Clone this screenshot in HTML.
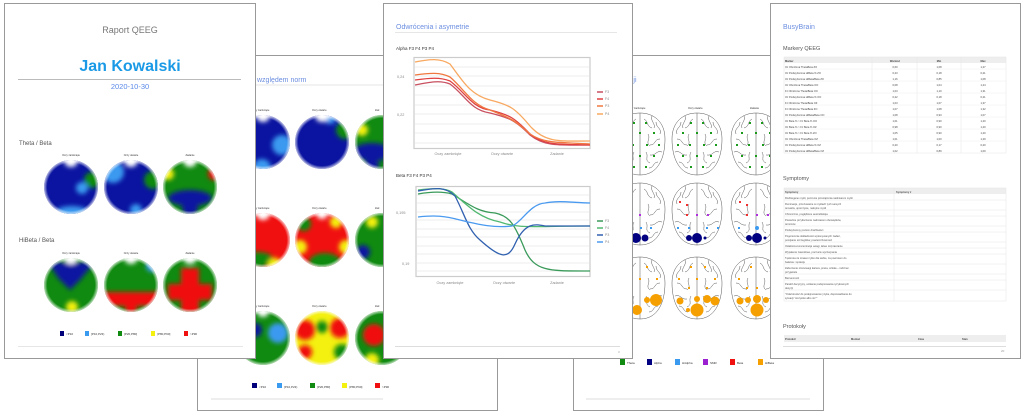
<!DOCTYPE html>
<html><head><meta charset="utf-8"><style>
html,body{margin:0;padding:0;background:#fff;width:1024px;height:416px;overflow:hidden}
svg{display:block}
text{font-family:"Liberation Sans",sans-serif}
</style></head><body>
<svg width="1024" height="416" viewBox="0 0 1024 416" xmlns="http://www.w3.org/2000/svg">
<defs>
<radialGradient id="gBlue" cx="50%" cy="50%" r="50%"><stop offset="0" stop-color="#0a14a0"/><stop offset="1" stop-color="#0a14a0" stop-opacity="0"/></radialGradient>
<radialGradient id="gLB" cx="50%" cy="50%" r="50%"><stop offset="0" stop-color="#3a9af0"/><stop offset="1" stop-color="#3a9af0" stop-opacity="0"/></radialGradient>
<radialGradient id="gGr" cx="50%" cy="50%" r="50%"><stop offset="0" stop-color="#108a10"/><stop offset="1" stop-color="#108a10" stop-opacity="0"/></radialGradient>
<radialGradient id="gYe" cx="50%" cy="50%" r="50%"><stop offset="0" stop-color="#f4f010"/><stop offset="1" stop-color="#f4f010" stop-opacity="0"/></radialGradient>
<radialGradient id="gRe" cx="50%" cy="50%" r="50%"><stop offset="0" stop-color="#f01010"/><stop offset="1" stop-color="#f01010" stop-opacity="0"/></radialGradient>
<radialGradient id="gWh" cx="50%" cy="50%" r="50%"><stop offset="0" stop-color="#fff"/><stop offset="1" stop-color="#fff" stop-opacity="0"/></radialGradient>
<radialGradient id="edge" cx="50%" cy="50%" r="50%"><stop offset="0.88" stop-color="#fff" stop-opacity="0"/><stop offset="1" stop-color="#fff" stop-opacity="0.7"/></radialGradient>
<filter id="bl" x="-20%" y="-20%" width="140%" height="140%"><feGaussianBlur stdDeviation="2.5"/></filter>
<clipPath id="a1"><circle cx="263" cy="142" r="27"/></clipPath>
<clipPath id="a2"><circle cx="322" cy="142" r="27"/></clipPath>
<clipPath id="a3"><circle cx="382" cy="142" r="27"/></clipPath>
<clipPath id="a4"><circle cx="263" cy="240" r="27"/></clipPath>
<clipPath id="a5"><circle cx="322" cy="240" r="27"/></clipPath>
<clipPath id="a6"><circle cx="382" cy="240" r="27"/></clipPath>
<clipPath id="a7"><circle cx="263" cy="338" r="27"/></clipPath>
<clipPath id="a8"><circle cx="322" cy="338" r="27"/></clipPath>
<clipPath id="a9"><circle cx="382" cy="338" r="27"/></clipPath>
<clipPath id="b1"><circle cx="71" cy="187" r="27"/></clipPath>
<clipPath id="b2"><circle cx="131" cy="187" r="27"/></clipPath>
<clipPath id="b3"><circle cx="190" cy="187" r="27"/></clipPath>
<clipPath id="b4"><circle cx="71" cy="285" r="27"/></clipPath>
<clipPath id="b5"><circle cx="131" cy="285" r="27"/></clipPath>
<clipPath id="b6"><circle cx="190" cy="285" r="27"/></clipPath>
<g id="brain" fill="#fff" stroke="#555" stroke-width="0.5">
<path d="M0,-31 C-14,-31 -25,-22 -25,-5 C-25,14 -18,31 0,31 C18,31 25,14 25,-5 C25,-22 14,-31 0,-31Z"/>
<path fill="none" d="M0,-31 L0,31"/>
<path fill="none" d="M-4,-25 c-5,3 -2,7 -8,9 M-16,-22 c0,6 -6,6 -4,12 M-20,-5 c6,0 4,6 10,6 M-8,-10 c-3,5 3,8 -2,12 M-22,8 c6,-2 6,4 12,3 M-6,8 c-3,5 2,8 -4,11 M-18,18 c5,0 4,6 9,6 M-12,-28 c2,5 -4,8 -2,12"/>
<path fill="none" d="M4,-25 c5,3 2,7 8,9 M16,-22 c0,6 6,6 4,12 M20,-5 c-6,0 -4,6 -10,6 M8,-10 c3,5 -3,8 2,12 M22,8 c-6,-2 -6,4 -12,3 M6,8 c3,5 -2,8 4,11 M18,18 c-5,0 -4,6 -9,6 M12,-28 c-2,5 4,8 2,12"/>
</g>
<g id="gdots" fill="#1a9a1a"><rect x="-7" y="-22" width="2" height="2"/><rect x="5" y="-22" width="2" height="2"/><rect x="-15" y="-12" width="2" height="2"/><rect x="-1" y="-12" width="2" height="2"/><rect x="13" y="-12" width="2" height="2"/><rect x="-20" y="0" width="2" height="2"/><rect x="-8" y="0" width="2" height="2"/><rect x="6" y="0" width="2" height="2"/><rect x="18" y="0" width="2" height="2"/><rect x="-15" y="11" width="2" height="2"/><rect x="-1" y="11" width="2" height="2"/><rect x="13" y="11" width="2" height="2"/><rect x="-7" y="22" width="2" height="2"/><rect x="5" y="22" width="2" height="2"/></g>
</defs>

<!-- PAGE 2 (behind) -->
<rect x="197.5" y="55.5" width="300" height="355" fill="#fff" stroke="#999"/>
<text x="257" y="82" font-size="7" fill="#6b8ee0">względem norm</text>
<line x1="256" y1="85" x2="383" y2="85" stroke="#e6e6e6"/>
<g font-size="2.5" fill="#333"><text x="256" y="111">y zamknięte</text><text x="312" y="111">Oczy otwarte</text><text x="375" y="111">Zad</text>
<text x="256" y="209">y zamknięte</text><text x="312" y="209">Oczy otwarte</text><text x="375" y="209">Zad</text>
<text x="256" y="307">y zamknięte</text><text x="312" y="307">Oczy otwarte</text><text x="375" y="307">Zad</text></g>
<g clip-path="url(#a1)"><rect x="230" y="110" width="70" height="70" fill="#0a14a0"/><g filter="url(#bl)"><circle cx="282" cy="145" r="10" fill="#3a9af0"/><circle cx="262" cy="168" r="9" fill="#3a9af0"/><circle cx="263" cy="115" r="7" fill="#fff"/></g></g>
<g clip-path="url(#a2)"><rect x="290" y="110" width="70" height="70" fill="#0a14a0"/><g filter="url(#bl)"><circle cx="345" cy="130" r="9" fill="#108a10"/><circle cx="330" cy="118" r="6" fill="#3a9af0"/><circle cx="322" cy="115" r="7" fill="#fff"/></g></g>
<g clip-path="url(#a3)"><rect x="350" y="110" width="70" height="70" fill="#108a10"/><g filter="url(#bl)"><ellipse cx="372" cy="152" rx="20" ry="9" fill="#0a14a0"/><circle cx="362" cy="130" r="6" fill="#f4f010"/><circle cx="372" cy="165" r="7" fill="#0a14a0"/></g></g>
<g clip-path="url(#a4)"><rect x="230" y="210" width="70" height="70" fill="#f01010"/><g filter="url(#bl)"><ellipse cx="258" cy="260" rx="16" ry="8" fill="#108a10"/><circle cx="275" cy="265" r="7" fill="#f4f010"/><circle cx="263" cy="213" r="7" fill="#fff"/></g></g>
<g clip-path="url(#a5)"><rect x="290" y="210" width="70" height="70" fill="#f01010"/><g filter="url(#bl)"><ellipse cx="325" cy="262" rx="16" ry="9" fill="#108a10"/><circle cx="300" cy="247" r="7" fill="#f4f010"/><circle cx="346" cy="247" r="7" fill="#f4f010"/><circle cx="336" cy="222" r="6" fill="#f4f010"/><circle cx="304" cy="224" r="7" fill="#108a10"/><circle cx="322" cy="213" r="6" fill="#fff"/></g></g>
<g clip-path="url(#a6)"><rect x="350" y="210" width="70" height="70" fill="#108a10"/><g filter="url(#bl)"><circle cx="363" cy="252" r="7" fill="#0a14a0"/><circle cx="372" cy="222" r="6" fill="#f4f010"/></g></g>
<g clip-path="url(#a7)"><rect x="230" y="308" width="70" height="70" fill="#108a10"/><g filter="url(#bl)"><circle cx="278" cy="333" r="10" fill="#3a9af0"/><circle cx="255" cy="330" r="7" fill="#0a14a0"/><circle cx="263" cy="311" r="6" fill="#fff"/></g></g>
<g clip-path="url(#a8)"><rect x="290" y="308" width="70" height="70" fill="#f4f010"/><g filter="url(#bl)"><circle cx="305" cy="330" r="10" fill="#f01010"/><circle cx="340" cy="328" r="10" fill="#f01010"/><circle cx="322" cy="327" r="6" fill="#108a10"/><circle cx="342" cy="352" r="8" fill="#108a10"/><circle cx="305" cy="352" r="7" fill="#f01010"/></g></g>
<g clip-path="url(#a9)"><rect x="350" y="308" width="70" height="70" fill="#108a10"/><g filter="url(#bl)"><circle cx="374" cy="335" r="11" fill="#f01010"/><circle cx="372" cy="360" r="7" fill="#f4f010"/></g></g>
<g fill="url(#edge)"><circle cx="263" cy="142" r="27"/><circle cx="322" cy="142" r="27"/><circle cx="382" cy="142" r="27"/><circle cx="263" cy="240" r="27"/><circle cx="322" cy="240" r="27"/><circle cx="382" cy="240" r="27"/><circle cx="263" cy="338" r="27"/><circle cx="322" cy="338" r="27"/><circle cx="382" cy="338" r="27"/></g>
<g font-size="3" fill="#333">
<rect x="252" y="383" width="5" height="5" fill="#00007a"/><text x="259" y="388">&lt;P10</text>
<rect x="277" y="383" width="5" height="5" fill="#3a9af0"/><text x="284" y="388">[P10,P23)</text>
<rect x="310" y="383" width="5" height="5" fill="#108a10"/><text x="317" y="388">[P20,P80]</text>
<rect x="342" y="383" width="5" height="5" fill="#f4f010"/><text x="349" y="388">(P80,P90]</text>
<rect x="375" y="383" width="5" height="5" fill="#f01010"/><text x="382" y="388">&gt;P90</text></g>
<line x1="211" y1="399" x2="383" y2="399" stroke="#ddd"/>

<!-- PAGE 4 (behind) -->
<rect x="573.5" y="55.5" width="250" height="355" fill="#fff" stroke="#999"/>
<text x="626" y="82" font-size="7" fill="#6b8ee0">ncji</text>
<g font-size="2.5" fill="#333"><text x="632" y="109">y zamknięte</text><text x="688" y="109">Oczy otwarte</text><text x="750" y="109">Zadanie</text></g>
<g>
<use href="#brain" x="640" y="144"/><use href="#brain" x="697" y="144"/><use href="#brain" x="756" y="144"/>
<use href="#gdots" x="640" y="144"/><use href="#gdots" x="697" y="144"/><use href="#gdots" x="756" y="144"/>
<use href="#brain" x="640" y="214"/><use href="#brain" x="697" y="214"/><use href="#brain" x="756" y="214"/>
<use href="#brain" x="640" y="288"/><use href="#brain" x="697" y="288"/><use href="#brain" x="756" y="288"/>
</g>
<g fill="#000080"><circle cx="636" cy="238" r="5"/><circle cx="645" cy="238" r="3.5"/><circle cx="628" cy="238" r="3"/>
<circle cx="697" cy="238" r="5"/><circle cx="689" cy="238" r="3"/><circle cx="705" cy="238" r="1.5"/>
<circle cx="757" cy="238" r="5"/><circle cx="749" cy="238" r="3"/><circle cx="765" cy="238" r="1.5"/></g>
<g fill="#b030e0"><rect x="639" y="214" width="2" height="2"/><rect x="696" y="214" width="2" height="2"/><rect x="707" y="214" width="2" height="2"/><rect x="756" y="214" width="2" height="2"/><rect x="767" y="214" width="2" height="2"/></g>
<g fill="#f03030"><rect x="679" y="201" width="2" height="2"/><rect x="686" y="204" width="2" height="2"/><rect x="686" y="214" width="2" height="2"/><rect x="739" y="201" width="2" height="2"/><rect x="746" y="204" width="2" height="2"/><rect x="746" y="214" width="2" height="2"/></g>
<g fill="#3a9af0"><rect x="677" y="227" width="2" height="2"/><rect x="688" y="227" width="2" height="2"/><rect x="706" y="227" width="2" height="2"/><rect x="717" y="227" width="2" height="2"/><rect x="640" y="227" width="2" height="2"/><rect x="650" y="227" width="2" height="2"/><circle cx="757" cy="228" r="2"/><rect x="738" y="227" width="2" height="2"/></g>
<g fill="#f5a000"><circle cx="637" cy="310" r="5"/><circle cx="647" cy="300" r="3"/><circle cx="656" cy="300" r="6"/>
<circle cx="680" cy="301" r="3.5"/><circle cx="697" cy="299" r="3"/><circle cx="707" cy="299" r="4"/><circle cx="715" cy="301" r="4.5"/><circle cx="697" cy="310" r="6.5"/><circle cx="688" cy="310" r="2"/>
<circle cx="740" cy="301" r="3.5"/><circle cx="748" cy="300" r="3"/><circle cx="757" cy="299" r="4"/><circle cx="757" cy="310" r="6.5"/><circle cx="766" cy="300" r="3"/>
<rect x="646" y="266" width="2" height="2"/><rect x="639" y="278" width="2" height="2"/><rect x="630" y="287" width="2" height="2"/><rect x="656" y="278" width="2" height="2"/>
<rect x="690" y="266" width="2" height="2"/><rect x="704" y="266" width="2" height="2"/><rect x="678" y="278" width="2" height="2"/><rect x="696" y="278" width="2" height="2"/><rect x="714" y="278" width="2" height="2"/><rect x="688" y="287" width="2" height="2"/><rect x="706" y="287" width="2" height="2"/>
<rect x="750" y="266" width="2" height="2"/><rect x="738" y="278" width="2" height="2"/><rect x="756" y="287" width="2" height="2"/><rect x="746" y="287" width="2" height="2"/></g>
<g font-size="3" fill="#333">
<rect x="620" y="359" width="5" height="6" fill="#108a10"/><text x="627" y="364">Theta</text>
<rect x="647" y="359" width="5" height="6" fill="#000080"/><text x="654" y="364">Alpha</text>
<rect x="675" y="359" width="5" height="6" fill="#3a9af0"/><text x="682" y="364">HiAlpha</text>
<rect x="703" y="359" width="5" height="6" fill="#9a20d0"/><text x="710" y="364">SMR</text>
<rect x="730" y="359" width="5" height="6" fill="#f01010"/><text x="737" y="364">Beta</text>
<rect x="758" y="359" width="5" height="6" fill="#f5a000"/><text x="765" y="364">HiBeta</text></g>
<line x1="586" y1="399" x2="810" y2="399" stroke="#ddd"/>

<!-- PAGE 1 -->
<rect x="4.5" y="3.5" width="251" height="355" fill="#fff" stroke="#999"/>
<text x="130" y="33" font-size="9" fill="#777" text-anchor="middle">Raport QEEG</text>
<text x="130" y="71" font-size="16" font-weight="bold" fill="#1a9ae6" text-anchor="middle">Jan Kowalski</text>
<line x1="18" y1="79.5" x2="241" y2="79.5" stroke="#bbb"/>
<text x="130" y="89" font-size="7.5" fill="#5a8ae8" text-anchor="middle">2020-10-30</text>
<text x="19" y="145" font-size="6" fill="#555">Theta / Beta</text>
<text x="19" y="242" font-size="6" fill="#555">HiBeta / Beta</text>
<g font-size="2.5" fill="#333" text-anchor="middle"><text x="71" y="156">Oczy zamknięte</text><text x="131" y="156">Oczy otwarte</text><text x="190" y="156">Zadanie</text>
<text x="71" y="254">Oczy zamknięte</text><text x="131" y="254">Oczy otwarte</text><text x="190" y="254">Zadanie</text></g>
<g clip-path="url(#b1)"><rect x="40" y="155" width="65" height="65" fill="#0a14a0"/><g filter="url(#bl)"><circle cx="92" cy="180" r="8" fill="#108a10"/><circle cx="82" cy="188" r="6" fill="#3a9af0"/><ellipse cx="72" cy="212" rx="16" ry="6" fill="#3a9af0"/><circle cx="71" cy="160" r="7" fill="#fff"/></g></g>
<g clip-path="url(#b2)"><rect x="100" y="155" width="65" height="65" fill="#0a14a0"/><g filter="url(#bl)"><circle cx="113" cy="172" r="11" fill="#3a9af0"/><circle cx="153" cy="180" r="9" fill="#108a10"/><circle cx="136" cy="210" r="6" fill="#3a9af0"/><circle cx="131" cy="160" r="7" fill="#fff"/></g></g>
<g clip-path="url(#b3)"><rect x="160" y="155" width="65" height="65" fill="#108a10"/><g filter="url(#bl)"><ellipse cx="190" cy="198" rx="22" ry="8" fill="#0a14a0"/><circle cx="190" cy="208" r="8" fill="#0a14a0"/><circle cx="168" cy="174" r="6" fill="#f4f010"/><circle cx="214" cy="174" r="6" fill="#f01010"/><circle cx="190" cy="160" r="7" fill="#fff"/></g></g>
<g clip-path="url(#b4)"><rect x="40" y="253" width="65" height="65" fill="#108a10"/><g filter="url(#bl)"><path d="M48,262 L95,262 L80,280 L70,290 L58,278Z" fill="#0a14a0"/><circle cx="72" cy="307" r="6" fill="#f4f010"/><circle cx="71" cy="257" r="7" fill="#fff"/></g></g>
<g clip-path="url(#b5)"><rect x="100" y="253" width="65" height="65" fill="#108a10"/><g filter="url(#bl)"><rect x="100" y="292" width="65" height="14" fill="#f01010"/><circle cx="131" cy="308" r="6" fill="#f01010"/><circle cx="152" cy="266" r="6" fill="#3a9af0"/><circle cx="131" cy="257" r="7" fill="#fff"/></g></g>
<g clip-path="url(#b6)"><rect x="160" y="253" width="65" height="65" fill="#108a10"/><g filter="url(#bl)"><rect x="181" y="268" width="18" height="45" fill="#f01010"/><rect x="168" y="284" width="44" height="16" fill="#f01010"/><circle cx="190" cy="257" r="7" fill="#fff"/></g></g>
<g fill="url(#edge)"><circle cx="71" cy="187" r="27"/><circle cx="131" cy="187" r="27"/><circle cx="190" cy="187" r="27"/><circle cx="71" cy="285" r="27"/><circle cx="131" cy="285" r="27"/><circle cx="190" cy="285" r="27"/></g>
<g font-size="3" fill="#333">
<rect x="60" y="331" width="4" height="5" fill="#00007a"/><text x="66" y="335">&lt;P10</text>
<rect x="85" y="331" width="4" height="5" fill="#3a9af0"/><text x="91" y="335">[P10,P23)</text>
<rect x="118" y="331" width="4" height="5" fill="#108a10"/><text x="124" y="335">[P20,P80]</text>
<rect x="151" y="331" width="4" height="5" fill="#f4f010"/><text x="157" y="335">(P80,P90]</text>
<rect x="184" y="331" width="4" height="5" fill="#f01010"/><text x="190" y="335">&gt;P90</text></g>
<line x1="18" y1="346.5" x2="243" y2="346.5" stroke="#e6e6e6"/>

<!-- PAGE 3 -->
<rect x="383.5" y="3.5" width="249" height="355" fill="#fff" stroke="#999"/>
<text x="396" y="29" font-size="7" fill="#6b8ee0">Odwrócenia i asymetrie</text>
<line x1="395" y1="32.5" x2="617" y2="32.5" stroke="#e6e6e6"/>
<text x="396" y="50" font-size="4.5" fill="#333">Alpha F3 F4 P3 P4</text>
<rect x="414" y="57.5" width="176" height="91" fill="#fff" stroke="#ccc" stroke-width="1.2"/>
<g stroke="#eee"><line x1="415" y1="67" x2="589" y2="67"/><line x1="415" y1="76" x2="589" y2="76"/><line x1="415" y1="86" x2="589" y2="86"/><line x1="415" y1="95" x2="589" y2="95"/><line x1="415" y1="105" x2="589" y2="105"/><line x1="415" y1="114" x2="589" y2="114"/><line x1="415" y1="124" x2="589" y2="124"/><line x1="415" y1="133" x2="589" y2="133"/><line x1="415" y1="143" x2="589" y2="143"/></g>
<g font-size="3.8" fill="#888"><text x="397" y="78">0,24</text><text x="397" y="116">0,22</text>
<text x="448" y="155" text-anchor="middle">Oczy zamknięte</text><text x="502" y="155" text-anchor="middle">Oczy otwarte</text><text x="557" y="155" text-anchor="middle">Zadanie</text></g>
<g fill="none" stroke-width="1.3">
<path d="M415,85 C430,82 440,80 450,84 C465,95 470,110 490,113 C510,118 515,120 530,135 C545,147 560,145 590,145" stroke="#c85060"/>
<path d="M415,80 C430,78 440,77 450,81 C465,92 472,108 490,110 C510,115 515,118 530,134 C545,146 560,144 590,145" stroke="#e04040"/>
<path d="M415,75 C430,73 440,72 450,77 C465,90 472,105 490,110 C510,118 515,120 530,134 C545,144 560,142 590,144" stroke="#f07840"/>
<path d="M415,62 C430,59 440,58 450,64 C462,80 470,95 490,100 C510,105 515,108 530,126 C545,143 560,141 590,141" stroke="#f8a860"/>
</g>
<g stroke-width="1.5"><line x1="597" y1="92" x2="603" y2="92" stroke="#c85060"/><line x1="597" y1="99" x2="603" y2="99" stroke="#e04040"/><line x1="597" y1="106" x2="603" y2="106" stroke="#f07840"/><line x1="597" y1="114" x2="603" y2="114" stroke="#f8a860"/></g>
<g font-size="3.5" fill="#888"><text x="605" y="93">F3</text><text x="605" y="100">F4</text><text x="605" y="107">P3</text><text x="605" y="115">P4</text></g>

<text x="396" y="177" font-size="4.5" fill="#333">Beta F3 F4 P3 P4</text>
<rect x="416" y="186.5" width="174" height="90" fill="#fff" stroke="#ccc" stroke-width="1.2"/>
<g stroke="#eee"><line x1="417" y1="195" x2="589" y2="195"/><line x1="417" y1="203" x2="589" y2="203"/><line x1="417" y1="212" x2="589" y2="212"/><line x1="417" y1="220" x2="589" y2="220"/><line x1="417" y1="229" x2="589" y2="229"/><line x1="417" y1="237" x2="589" y2="237"/><line x1="417" y1="246" x2="589" y2="246"/><line x1="417" y1="254" x2="589" y2="254"/><line x1="417" y1="263" x2="589" y2="263"/><line x1="417" y1="271" x2="589" y2="271"/></g>
<g font-size="3.8" fill="#888"><text x="396" y="214">0,195</text><text x="402" y="265">0,19</text>
<text x="450" y="284" text-anchor="middle">Oczy zamknięte</text><text x="504" y="284" text-anchor="middle">Oczy otwarte</text><text x="557" y="284" text-anchor="middle">Zadanie</text></g>
<g fill="none" stroke-width="1.3">
<path d="M418,194 C435,191 445,192 452,194 C470,205 478,212 495,213 C510,216 515,225 525,250 C535,272 550,271 590,271" stroke="#3a9a5a"/>
<path d="M418,190 C435,188 445,188 452,192 C470,208 480,218 500,222 C520,229 530,226 590,226" stroke="#50b870"/>
<path d="M418,191 C435,188 445,186 455,196 C465,215 468,230 480,240 C500,258 508,260 515,244 C525,222 535,224 545,226 C565,226 575,226 590,226" stroke="#3060b0"/>
<path d="M418,217 C435,215 445,216 460,220 C480,225 495,228 512,226 C522,222 530,204 545,203 C560,200 575,203 590,203" stroke="#4a9af0"/>
</g>
<g stroke-width="1.5"><line x1="597" y1="221" x2="603" y2="221" stroke="#3a9a5a"/><line x1="597" y1="228" x2="603" y2="228" stroke="#50b870"/><line x1="597" y1="235" x2="603" y2="235" stroke="#3060b0"/><line x1="597" y1="242" x2="603" y2="242" stroke="#4a9af0"/></g>
<g font-size="3.5" fill="#888"><text x="605" y="222">F3</text><text x="605" y="229">F4</text><text x="605" y="236">P3</text><text x="605" y="243">P4</text></g>
<line x1="395" y1="346.5" x2="620" y2="346.5" stroke="#ddd"/>
<text x="618" y="353" font-size="3" fill="#999">3</text>

<!-- PAGE 5 -->
<rect x="770.5" y="3.5" width="250" height="355" fill="#fff" stroke="#999"/>
<text x="783" y="29" font-size="7" fill="#6b8ee0">BusyBrain</text>
<text x="783" y="50" font-size="5.5" fill="#555">Markery QEEG</text>
<rect x="784" y="57" width="222" height="6" fill="#eee"/>
<g stroke="#e6e6e6" stroke-width="0.5"><rect x="784" y="57" width="222" height="96" fill="none"/>
<line x1="872" y1="57" x2="872" y2="153"/><line x1="917" y1="57" x2="917" y2="153"/><line x1="961" y1="57" x2="961" y2="153"/></g>
<g font-size="2.6" fill="#444">
<text x="785" y="62" font-weight="bold">Marker</text><text x="895" y="62" text-anchor="middle" font-weight="bold">Wartość</text><text x="939" y="62" text-anchor="middle" font-weight="bold">Min</text><text x="983" y="62" text-anchor="middle" font-weight="bold">Max</text>
<text x="785" y="68">Oz Obniżona ThetaBeta ZO</text><text x="895" y="68" text-anchor="middle">0,60</text><text x="939" y="68" text-anchor="middle">1,08</text><text x="983" y="68" text-anchor="middle">1,27</text>
<text x="785" y="74">Oz Podwyższona HiBeta % ZO</text><text x="895" y="74" text-anchor="middle">0,23</text><text x="939" y="74" text-anchor="middle">0,18</text><text x="983" y="74" text-anchor="middle">0,21</text>
<text x="785" y="80">Oz Podwyższona HiBeta/Beta ZO</text><text x="895" y="80" text-anchor="middle">1,16</text><text x="939" y="80" text-anchor="middle">0,85</text><text x="983" y="80" text-anchor="middle">1,08</text>
<text x="785" y="86">Oz Obniżona Theta/Beta OO</text><text x="895" y="86" text-anchor="middle">0,08</text><text x="939" y="86" text-anchor="middle">1,04</text><text x="983" y="86" text-anchor="middle">1,24</text>
<text x="785" y="92">Fz Obniżona Theta/Beta OO</text><text x="895" y="92" text-anchor="middle">1,03</text><text x="939" y="92" text-anchor="middle">1,10</text><text x="983" y="92" text-anchor="middle">1,31</text>
<text x="785" y="98">Oz Podwyższona HiBeta % OO</text><text x="895" y="98" text-anchor="middle">0,22</text><text x="939" y="98" text-anchor="middle">0,18</text><text x="983" y="98" text-anchor="middle">0,21</text>
<text x="785" y="104">Fz Obniżona Theta/Beta OZ</text><text x="895" y="104" text-anchor="middle">1,03</text><text x="939" y="104" text-anchor="middle">1,07</text><text x="983" y="104" text-anchor="middle">1,37</text>
<text x="785" y="110">Fz Obniżona Theta/Beta ZO</text><text x="895" y="110" text-anchor="middle">1,07</text><text x="939" y="110" text-anchor="middle">1,08</text><text x="983" y="110" text-anchor="middle">1,32</text>
<text x="785" y="116">Oz Podwyższona HiBeta/Beta OO</text><text x="895" y="116" text-anchor="middle">1,08</text><text x="939" y="116" text-anchor="middle">0,93</text><text x="983" y="116" text-anchor="middle">1,07</text>
<text x="785" y="122">Oz Beta % &gt; Fz Beta % OO</text><text x="895" y="122" text-anchor="middle">1,01</text><text x="939" y="122" text-anchor="middle">0,90</text><text x="983" y="122" text-anchor="middle">1,20</text>
<text x="785" y="128">Oz Beta % &gt; Fz Beta % OZ</text><text x="895" y="128" text-anchor="middle">0,98</text><text x="939" y="128" text-anchor="middle">0,90</text><text x="983" y="128" text-anchor="middle">1,20</text>
<text x="785" y="134">Oz Beta % &gt; Fz Beta % ZO</text><text x="895" y="134" text-anchor="middle">1,05</text><text x="939" y="134" text-anchor="middle">0,90</text><text x="983" y="134" text-anchor="middle">1,20</text>
<text x="785" y="140">Oz Obniżona Theta/Beta OZ</text><text x="895" y="140" text-anchor="middle">1,01</text><text x="939" y="140" text-anchor="middle">1,00</text><text x="983" y="140" text-anchor="middle">1,29</text>
<text x="785" y="146">Oz Podwyższona HiBeta % OZ</text><text x="895" y="146" text-anchor="middle">0,20</text><text x="939" y="146" text-anchor="middle">0,17</text><text x="983" y="146" text-anchor="middle">0,20</text>
<text x="785" y="152">Oz Podwyższona HiBeta/Beta OZ</text><text x="895" y="152" text-anchor="middle">1,02</text><text x="939" y="152" text-anchor="middle">0,89</text><text x="983" y="152" text-anchor="middle">1,09</text>
</g>
<g stroke="#eee" stroke-width="0.5"><line x1="784" y1="69" x2="1006" y2="69"/><line x1="784" y1="81" x2="1006" y2="81"/><line x1="784" y1="93" x2="1006" y2="93"/><line x1="784" y1="105" x2="1006" y2="105"/><line x1="784" y1="117" x2="1006" y2="117"/><line x1="784" y1="129" x2="1006" y2="129"/><line x1="784" y1="141" x2="1006" y2="141"/></g>

<text x="783" y="180" font-size="5.5" fill="#555">Symptomy</text>
<rect x="784" y="188" width="222" height="6" fill="#eee"/>
<g stroke="#e6e6e6" stroke-width="0.5" fill="none"><rect x="784" y="188" width="222" height="113"/><line x1="894" y1="188" x2="894" y2="301"/>
<line x1="784" y1="200" x2="1006" y2="200"/><line x1="784" y1="210" x2="1006" y2="210"/><line x1="784" y1="216" x2="1006" y2="216"/><line x1="784" y1="226" x2="1006" y2="226"/><line x1="784" y1="232" x2="1006" y2="232"/><line x1="784" y1="242" x2="1006" y2="242"/><line x1="784" y1="248" x2="1006" y2="248"/><line x1="784" y1="254" x2="1006" y2="254"/><line x1="784" y1="264" x2="1006" y2="264"/><line x1="784" y1="274" x2="1006" y2="274"/><line x1="784" y1="280" x2="1006" y2="280"/><line x1="784" y1="290" x2="1006" y2="290"/></g>
<g font-size="2.6" fill="#555">
<text x="785" y="193" font-weight="bold">Symptomy</text><text x="896" y="193" font-weight="bold">Symptomy ▾</text>
<text x="785" y="199">Rozbiegane myśli, poczucie przeciążenia nadmiarem myśli</text>
<text x="785" y="205">Ruminacje, przeżuwanie w myślach tych samych</text><text x="785" y="209">tematów, uporczywe, natrętne myśli</text>
<text x="785" y="215">Chroniczne, pogłębione autorefleksja</text>
<text x="785" y="221">Poważnie przytłoczenie nadmiarem obowiązków,</text><text x="785" y="225">terminów</text>
<text x="785" y="231">Podwyższony poziom drażliwości</text>
<text x="785" y="237">Pogorszenie dokładności wykonywanych zadań,</text><text x="785" y="241">pomijanie szczegółów, powierzchowność</text>
<text x="785" y="247">Osłabiona koncentracja uwagi, łatwe rozpraszanie</text>
<text x="785" y="253">Wypalenie zawodowe, poczucie wyczerpania</text>
<text x="785" y="259">Tęsknota za czasem tylko dla siebie, za powrotem do</text><text x="785" y="263">balansu i spokoju</text>
<text x="785" y="269">Zaburzenie równowagi kariera, praca, szkoła – rodzina i</text><text x="785" y="273">przyjaciele</text>
<text x="785" y="279">Bezsenność</text>
<text x="785" y="285">Paraliż decyzyjny, unikanie podejmowania ryzykownych</text><text x="785" y="289">decyzji</text>
<text x="785" y="295">"Odwrotność do podejmowania ryzyka, doprowadzanie do</text><text x="785" y="299">sytuacji "wszystko albo nic""</text>
</g>
<text x="783" y="328" font-size="5.5" fill="#555">Protokoły</text>
<rect x="784" y="335" width="222" height="7" fill="#eee"/>
<g font-size="2.6" fill="#444" font-weight="bold"><text x="785" y="340">Protokół</text><text x="851" y="340">Montaż</text><text x="918" y="340">Czas</text><text x="962" y="340">Stan</text></g>
<line x1="783" y1="346.5" x2="1006" y2="346.5" stroke="#ddd"/>
<text x="1001" y="352" font-size="3" fill="#999">20</text>
</svg>
</body></html>
